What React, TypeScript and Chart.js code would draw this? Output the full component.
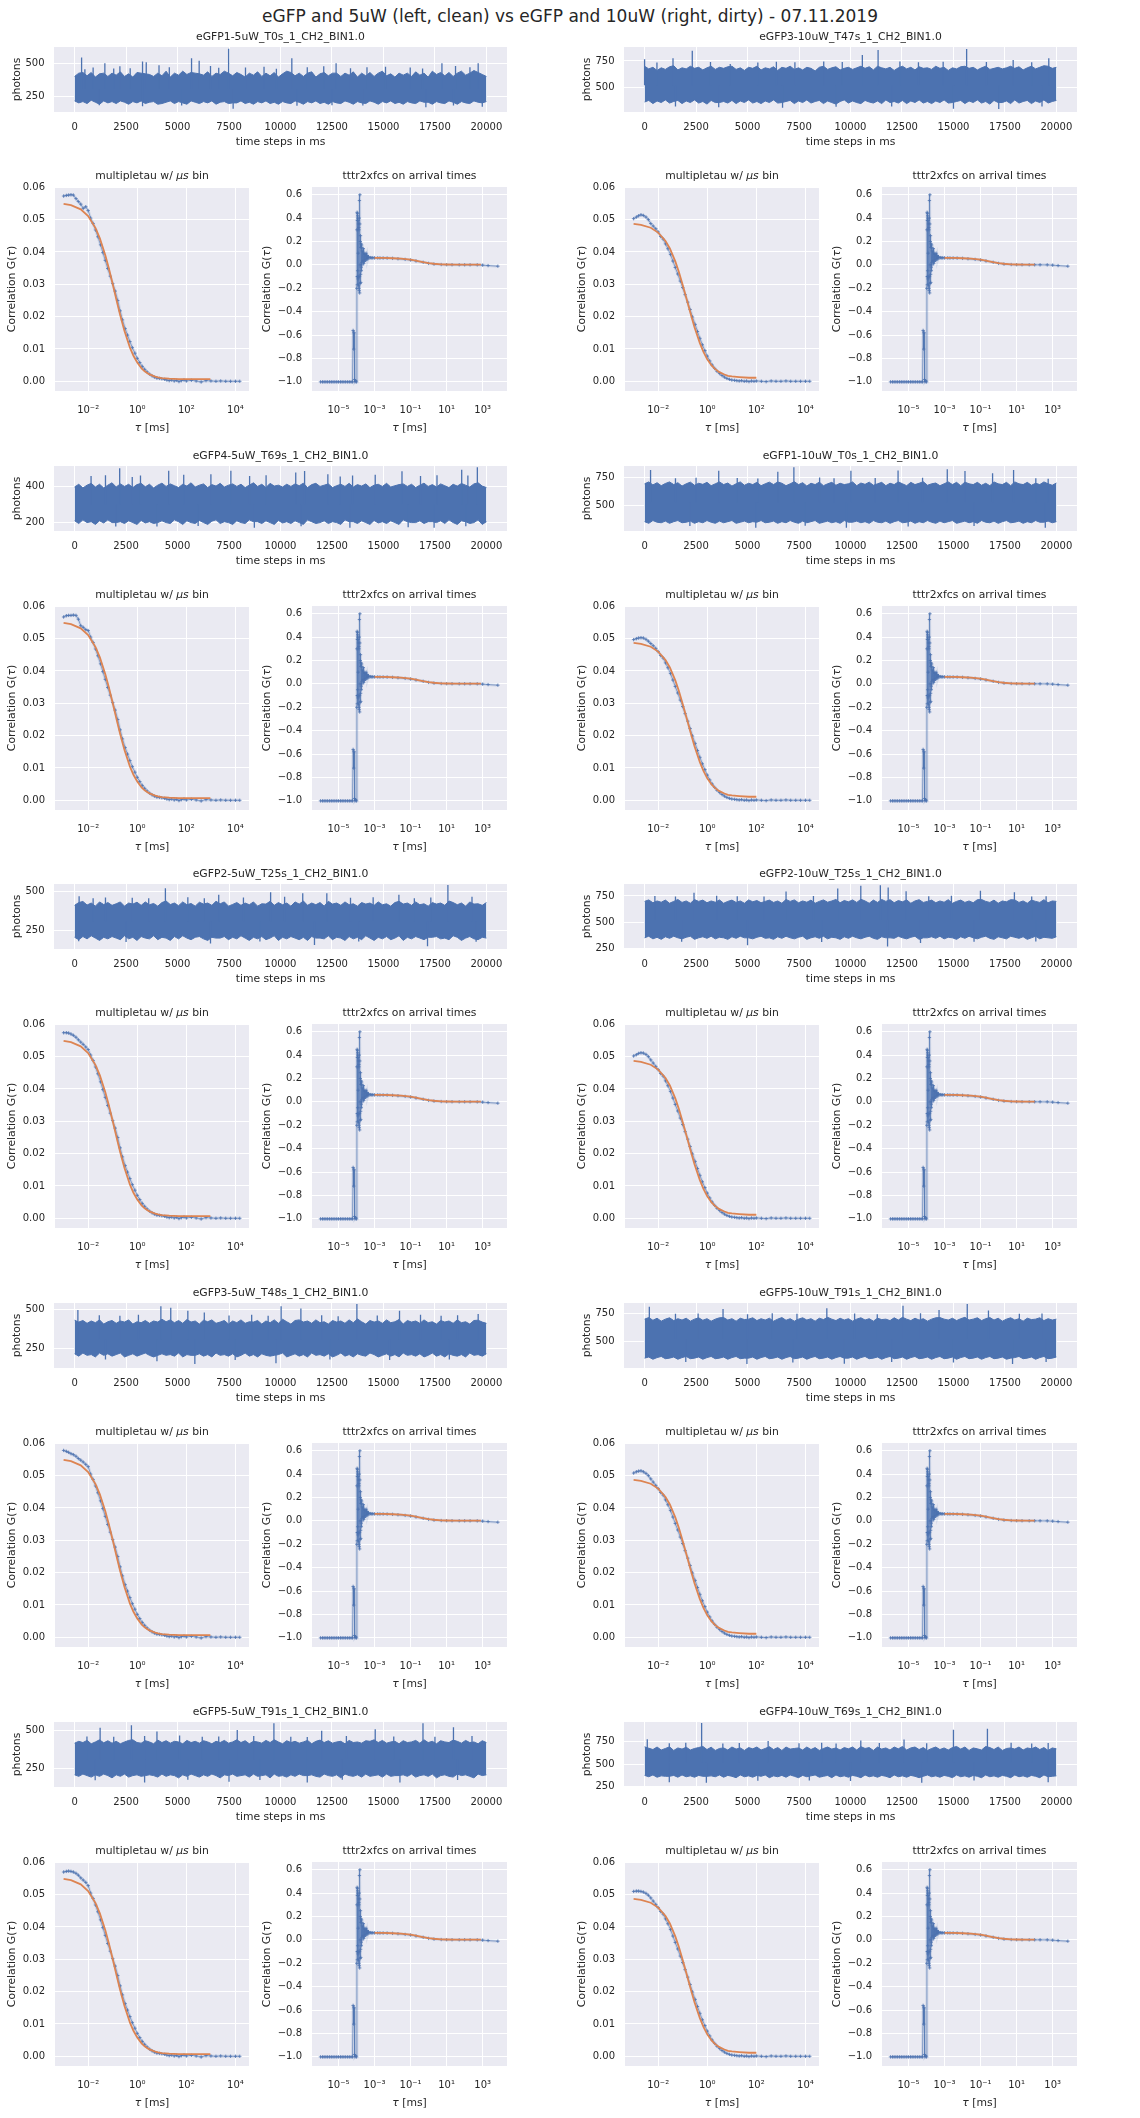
import React, { useEffect, useRef } from 'react';
import { Chart, registerables } from 'chart.js';

Chart.register(...registerables);

// ---------------- text & styling ----------------
const FAMILY = '"DejaVu Sans", "Liberation Sans", sans-serif';
const TXT = '#262626';
const BLUE = '#4c72b0';
const BLUE_LINE = 'rgba(76,114,176,0.75)';
const BLUE_BAND = 'rgba(76,114,176,0.15)';
const ORANGE = '#dd8452';
const PANEL_BG = '#eaeaf2';
const TICK_SIZE = 10;
const LABEL_SIZE = 10.8;

const MAIN_TITLE = 'eGFP and 5uW (left, clean) vs eGFP and 10uW (right, dirty) - 07.11.2019';

const TRACE_TITLES_L = ['eGFP1-5uW_T0s_1_CH2_BIN1.0', 'eGFP4-5uW_T69s_1_CH2_BIN1.0', 'eGFP2-5uW_T25s_1_CH2_BIN1.0', 'eGFP3-5uW_T48s_1_CH2_BIN1.0', 'eGFP5-5uW_T91s_1_CH2_BIN1.0'];
const TRACE_TITLES_R = ['eGFP3-10uW_T47s_1_CH2_BIN1.0', 'eGFP1-10uW_T0s_1_CH2_BIN1.0', 'eGFP2-10uW_T25s_1_CH2_BIN1.0', 'eGFP5-10uW_T91s_1_CH2_BIN1.0', 'eGFP4-10uW_T69s_1_CH2_BIN1.0'];

// ---------------- trace axes ----------------
const TRACE_XTICKS = [0, 2500, 5000, 7500, 10000, 12500, 15000, 17500, 20000];
const TRACE_XLABELS = ['0', '2500', '5000', '7500', '10000', '12500', '15000', '17500', '20000'];
const TRACE_YMIN_L = [131, 154, 130, 124, 130];
const TRACE_YMAX_L = [623, 510, 547, 540, 557];
const TRACE_YTICKS_L = [[250, 500], [200, 400], [250, 500], [250, 500], [250, 500]];
const TRACE_YMIN_R = [265, 271, 243, 262, 247];
const TRACE_YMAX_R = [883, 855, 864, 842, 964];
const TRACE_YTICKS_R = [[500, 750], [500, 750], [250, 500, 750], [500, 750], [250, 500, 750]];

// ---------------- trace envelopes (photons, 100 samples over 20000 ms) ----------------
const TRACE_HI_L = [
  [400,425,430,405,430,395,420,425,400,425,410,435,400,420,395,430,425,420,415,400,425,405,440,395,425,410,440,415,430,425,420,410,435,400,425,415,440,425,405,430,415,395,425,410,435,400,425,405,430,395,420,440,430,405,425,400,425,435,395,420,430,405,425,425,400,425,410,435,395,425,405,430,400,425,440,405,420,395,425,410,425,400,435,410,425,395,440,415,430,405,430,400,425,440,410,425,445,430,415,400],
  [395,410,390,405,415,395,410,390,405,418,395,412,398,410,392,408,415,396,410,390,405,416,398,412,402,392,410,400,418,395,405,412,392,408,400,415,395,405,412,398,410,392,405,418,398,410,392,415,400,405,395,410,398,412,402,416,392,408,415,398,405,412,392,402,410,398,415,395,408,400,412,392,405,410,398,415,395,402,408,412,398,410,392,405,416,398,408,395,412,402,392,410,400,414,405,395,412,418,400,392],
  [410,428,435,412,425,405,432,415,428,410,420,432,405,425,418,430,410,432,414,422,405,428,438,415,425,408,432,414,422,405,430,418,425,410,436,420,432,405,416,428,410,425,414,432,405,420,418,436,410,428,414,425,405,432,418,438,410,425,414,428,405,436,418,425,410,432,414,420,405,428,418,425,410,432,414,420,405,428,436,418,425,410,432,414,420,405,428,418,425,410,438,428,414,425,405,432,418,420,410,428],
  [430,418,428,410,425,414,432,405,420,428,410,425,418,432,405,420,414,428,410,425,418,436,420,432,414,428,410,434,418,425,405,430,420,432,410,418,428,405,425,414,432,410,420,418,428,405,425,414,432,410,436,420,405,428,432,418,425,410,432,414,420,405,428,418,425,410,432,414,438,420,405,428,418,425,410,432,414,420,434,405,428,418,425,410,432,414,420,405,428,418,425,410,432,414,420,405,428,430,418,410],
  [418,430,422,436,414,426,440,420,434,418,430,414,426,436,440,422,418,434,426,414,438,422,434,418,430,426,414,436,422,430,418,434,426,414,430,422,436,418,426,440,422,434,414,430,426,418,436,422,440,426,414,434,422,430,418,426,436,414,430,438,422,434,418,426,430,414,436,422,426,418,434,430,440,422,436,418,426,430,414,434,422,426,436,418,440,422,430,414,434,426,422,438,430,418,436,422,426,414,434,422],
];
const TRACE_LO_L = [
  [215,200,210,195,220,205,190,215,200,210,195,215,205,190,210,200,215,195,205,210,190,195,205,215,195,210,200,190,215,205,195,210,200,215,190,205,210,195,200,200,215,195,205,190,210,200,215,195,205,190,210,200,195,215,205,190,210,200,215,195,205,190,210,200,195,215,205,190,210,200,195,215,205,190,210,200,215,195,205,190,210,200,195,215,205,205,190,210,200,195,215,205,190,210,200,195,215,205,200,210],
  [210,195,215,200,205,190,210,198,215,200,200,205,195,210,200,190,212,198,205,195,200,210,200,195,215,205,190,210,200,195,212,200,190,208,215,195,205,200,190,210,200,195,215,205,205,195,210,200,190,212,198,205,195,210,200,190,215,205,195,200,210,195,205,200,190,215,205,205,195,210,200,190,212,198,205,195,210,200,190,215,205,200,200,210,195,205,205,200,210,195,215,200,190,210,205,195,200,215,190,205],
  [205,190,210,195,215,200,185,205,195,210,200,190,215,195,205,185,210,200,195,215,190,205,200,185,210,195,215,200,190,205,210,195,185,205,200,200,210,190,205,195,215,200,185,205,195,210,190,200,215,185,205,195,210,200,190,205,185,210,200,200,195,215,190,205,200,185,210,195,205,190,215,200,185,205,195,210,190,200,215,185,205,195,210,200,190,205,205,210,195,200,190,215,205,185,200,210,195,190,205,200],
  [215,200,220,205,210,195,220,205,215,200,210,220,195,205,215,200,210,220,205,195,205,215,205,210,200,220,195,210,205,205,215,200,210,195,220,205,210,200,215,195,205,220,200,210,195,215,205,200,205,210,220,195,205,215,200,210,195,220,205,210,200,215,195,205,220,200,210,195,215,205,200,220,210,195,205,215,200,210,195,220,205,210,200,215,195,205,220,200,210,195,215,205,200,210,195,220,205,210,200,215],
  [210,200,215,205,195,210,200,215,205,190,210,200,215,195,205,210,200,205,210,205,195,215,200,210,205,190,210,200,215,205,195,210,200,215,205,190,210,205,215,200,205,210,195,215,200,205,210,190,215,200,205,195,210,200,215,205,205,210,200,195,215,205,200,210,190,215,205,200,210,195,215,200,205,210,195,215,200,205,205,210,200,215,195,205,210,200,215,190,205,210,200,195,215,205,210,200,190,215,205,210],
];
const TRACE_HI_R = [
  [700,675,690,660,685,670,695,705,665,685,675,700,680,690,665,685,700,670,690,680,695,700,670,685,660,690,680,700,665,685,675,695,660,690,680,700,670,685,665,690,680,655,690,700,670,685,695,665,680,690,670,685,700,680,695,665,700,685,675,690,660,685,700,675,690,665,695,680,685,670,700,680,690,660,685,675,695,700,680,690,665,685,700,670,680,690,675,685,700,680,695,665,685,700,675,690,705,700,680,690],
  [695,712,685,705,678,698,712,688,705,675,695,710,682,700,690,708,678,695,712,688,702,675,695,712,682,700,688,708,678,695,710,688,712,700,678,695,714,688,705,675,700,688,710,678,695,708,682,700,688,695,712,678,702,690,710,682,695,708,678,700,688,712,695,678,708,688,700,714,682,695,702,678,695,712,688,708,678,710,695,688,708,682,700,678,712,695,688,708,678,712,695,688,708,682,700,688,712,695,682,702],
  [698,712,685,702,690,710,680,698,716,688,702,680,715,698,710,685,702,690,712,680,698,710,688,702,680,712,694,706,685,698,710,688,702,680,716,698,712,685,702,690,710,680,698,712,690,702,716,685,706,694,712,688,718,702,680,710,688,716,698,714,685,706,694,712,680,702,714,688,698,710,685,702,690,714,680,698,710,688,702,685,714,716,698,688,710,680,702,694,714,712,688,702,680,710,698,688,714,685,702,698],
  [698,712,688,706,680,698,710,685,702,690,706,680,698,710,688,702,680,698,710,712,690,702,680,706,694,698,710,685,702,690,706,680,698,712,688,702,680,698,710,690,702,680,706,694,714,698,685,706,690,702,680,698,710,690,702,680,706,694,698,685,710,690,714,698,685,706,690,702,680,698,710,712,698,690,706,685,702,714,690,698,710,685,702,712,690,706,680,698,710,690,702,680,706,694,698,710,685,702,690,698],
  [690,675,660,688,655,672,690,650,678,665,686,655,672,682,695,660,686,650,672,678,655,688,665,678,650,682,668,688,655,672,692,660,682,650,688,665,672,678,655,688,660,682,650,672,688,665,678,655,682,668,688,655,692,672,682,650,688,665,678,655,688,668,694,655,678,688,660,682,650,672,688,660,678,655,682,694,665,688,650,678,668,655,694,682,660,688,650,672,678,665,688,655,678,668,688,660,682,650,678,668],
];
const TRACE_LO_R = [
  [360,375,345,370,355,380,350,365,375,345,370,355,380,350,365,340,375,355,355,365,350,375,345,370,355,380,350,365,345,370,355,380,350,355,365,375,345,370,355,380,350,365,375,345,370,355,340,365,380,350,370,355,345,375,360,350,370,345,380,355,365,350,375,345,370,355,380,350,365,345,370,355,380,350,355,365,375,345,370,355,380,350,365,340,375,355,355,370,345,380,350,365,375,345,370,355,380,350,365,375],
  [355,340,365,350,345,360,340,355,365,345,350,360,340,355,345,365,350,340,360,345,355,365,340,350,360,345,355,350,365,345,350,360,340,355,345,365,350,340,360,345,355,365,340,350,360,345,355,340,365,350,350,360,345,355,340,365,350,345,360,340,355,365,345,350,360,340,355,345,365,350,340,360,345,355,365,340,350,360,345,355,340,365,350,345,360,340,355,365,345,350,360,340,355,345,365,350,350,360,345,355],
  [350,365,340,355,335,360,345,365,350,340,355,365,335,350,360,345,365,340,355,350,335,360,345,365,350,350,340,355,365,345,350,335,360,345,365,350,340,355,365,335,350,360,345,365,340,355,350,335,360,345,365,350,340,355,365,345,335,360,350,350,345,365,350,340,355,365,335,350,350,360,345,365,340,355,350,335,360,345,365,350,340,355,365,345,335,360,350,340,365,355,345,360,335,350,365,340,355,350,345,360],
  [350,360,340,355,365,345,350,360,340,355,365,345,350,360,340,355,365,345,350,360,340,355,365,345,350,350,360,340,355,365,345,350,360,340,355,365,345,350,360,340,355,365,345,350,360,340,355,365,350,350,360,340,355,365,345,350,360,340,355,365,345,350,360,340,355,365,345,350,360,340,355,365,345,350,360,340,355,365,345,350,360,340,355,365,345,350,360,340,350,355,365,345,350,360,340,355,365,345,350,360],
  [375,360,380,355,370,365,365,375,355,380,360,370,355,375,365,365,370,360,380,355,375,365,350,380,360,370,355,375,365,380,350,370,360,375,355,380,365,350,375,360,370,380,355,365,375,350,380,360,370,355,375,365,350,380,360,370,355,375,365,350,380,360,370,355,375,365,350,365,380,360,370,355,375,365,350,380,360,370,355,375,365,350,380,360,370,355,375,365,350,380,360,370,355,375,365,350,380,360,365,370],
];
// single-sample spikes [time ms, photons] and dips
const TRACE_SPIKES_L = [
  [[340,543],[1470,500],[3300,513],[3480,508],[5680,538],[6050,518],[7480,609],[10550,538],[12700,500],[17840,500],[19600,500],[900,468],[2200,478],[2700,462],[4100,485],[4600,470],[6600,480],[8300,468],[9200,474],[11300,470],[12100,478],[13400,462],[14200,470],[15100,474],[16300,468],[18500,480],[19200,470],[500,455],[1900,460],[7000,465],[9800,458],[16900,460]],
  [[2190,497],[4570,484],[7590,484],[11170,483],[15900,481],[18800,490],[19560,503],[10740,475],[6620,465],[800,455],[1500,460],[3200,458],[5300,462],[8500,455],[9300,460],[12300,465],[13500,458],[14600,462],[16800,455],[17600,460],[19100,458],[2800,450],[12900,452]],
  [[4410,519],[18130,541],[9520,494],[11080,488],[12250,488],[15750,478],[220,468],[7000,478],[1500,460],[2800,458],[3600,455],[5500,462],[6300,455],[8200,460],[10200,465],[13400,458],[14500,462],[16500,455],[17300,460],[19300,465],[900,455]],
  [[160,496],[4190,519],[4670,510],[10030,519],[10990,505],[13710,534],[15780,490],[5500,490],[6300,480],[19600,470],[1200,462],[2200,458],[3100,465],[7500,460],[8600,465],[9400,458],[12000,462],[12800,455],[14700,460],[16800,465],[17800,458],[18600,462]],
  [[1240,520],[2760,535],[9680,548],[16920,548],[14600,509],[18400,522],[12000,500],[7900,505],[4000,495],[600,462],[1900,460],[3400,465],[5100,468],[6200,460],[7000,462],[8700,465],[10500,460],[11300,458],[13200,465],[15500,462],[17500,460],[19300,465]],
];
const TRACE_DIPS_L = [
  [[7700,155],[17060,167],[19800,170],[3300,175],[10800,178],[14000,180],[1200,182],[5200,180],[12500,182],[18400,180]],
  [[8730,172],[13370,172],[17460,172],[16200,175],[2000,178],[4000,178],[11000,180],[19000,180],[6000,182]],
  [[11650,156],[17140,147],[6600,165],[200,180],[2500,175],[9000,178],[13800,178],[19500,176]],
  [[5840,150],[9780,155],[4000,168],[1500,178],[7800,176],[12400,178],[15300,175],[18200,178]],
  [[3400,160],[7500,165],[11300,160],[15800,160],[1000,175],[5500,178],[9000,176],[13000,178],[18600,176]],
];
const TRACE_SPIKES_R = [
  [[0,766],[1380,775],[2316,848],[4160,721],[10575,807],[11340,854],[15640,864],[17900,760],[19630,775],[8700,745],[3200,740],[5500,735],[6400,742],[7300,738],[9600,740],[12400,745],[13300,738],[14500,742],[16600,740],[18800,738],[600,735]],
  [[290,819],[3600,813],[6470,804],[7250,843],[10020,812],[12310,815],[14700,825],[15560,810],[17920,819],[16900,790],[1500,745],[2500,750],[4500,748],[5500,742],[8500,752],[9200,745],[11200,748],[13500,750],[19000,745],[19600,740]],
  [[6870,793],[9380,822],[10500,847],[11450,853],[11830,831],[12700,795],[16310,799],[17960,785],[2400,780],[500,750],[1500,745],[3500,752],[4500,748],[5800,745],[8200,750],[13800,748],[14900,752],[18800,745],[19500,748]],
  [[230,809],[3810,789],[8850,795],[12550,818],[15670,833],[14300,780],[16700,775],[1500,745],[2600,748],[5000,742],[6200,750],[7400,745],[10200,748],[11300,742],[13400,750],[18200,745],[19300,748]],
  [[130,775],[2770,952],[15000,879],[16650,890],[12600,770],[10500,760],[6000,755],[1200,730],[2000,735],[3800,728],[4600,732],[7500,730],[8600,735],[9300,728],[11400,732],[13700,730],[17800,735],[18800,728],[19600,732]],
];
const TRACE_DIPS_R = [
  [[3600,310],[15000,297],[17200,294],[6700,305],[1500,318],[9300,315],[12000,318],[19300,318]],
  [[5400,301],[9800,301],[19460,301],[2200,315],[7800,318],[12800,312],[16000,315]],
  [[5000,280],[11800,268],[13400,300],[1800,312],[8600,310],[16000,312],[19000,315]],
  [[4970,298],[9700,300],[17870,298],[2000,315],[7200,312],[12000,315],[15000,312],[19500,315]],
  [[1200,300],[3000,293],[13460,293],[19600,300],[5500,315],[8000,318],[10000,312],[16000,318]],
];
const TRACE_MID_L = [305, 300, 305, 305, 310];
const TRACE_MID_R = [520, 525, 520, 520, 515];
const TRACE_T = TRACE_HI_L[0].map((_, i) => (i * 20000) / (TRACE_HI_L[0].length - 1));

// ---------------- multipletau correlation ----------------
const MT_XMIN = 4.47e-4;
const MT_XMAX = 3.55e4;
const MT_XTICKS = [1e-2, 1, 1e2, 1e4];
const MT_XLABELS = ['10⁻²', '10⁰', '10²', '10⁴'];
const MT_YTICKS = [0, 0.01, 0.02, 0.03, 0.04, 0.05, 0.06];
const MT_YLABELS = ['0.00', '0.01', '0.02', '0.03', '0.04', '0.05', '0.06'];

const MT_TAU = [0.001, 0.0013, 0.0016, 0.002, 0.0025, 0.0032, 0.004, 0.005, 0.0063, 0.008, 0.01,
  0.0126, 0.016, 0.02, 0.025, 0.032, 0.04, 0.05, 0.063, 0.08, 0.1,
  0.126, 0.16, 0.2, 0.25, 0.32, 0.4, 0.5, 0.63, 0.8, 1,
  1.26, 1.6, 2, 2.5, 3.2, 4, 5, 6.3, 8, 10,
  13, 16, 20, 25, 32, 40, 50, 63, 80, 100,
  160, 250, 400, 630, 1000, 1600, 2500, 4000, 6300, 10000, 15000];

const MT_HEAD_L = [
  [0.0573, 0.0575, 0.0576, 0.0577, 0.0576, 0.0565, 0.0556, 0.0548, 0.0535, 0.0540, 0.0528],
  [0.0567, 0.0571, 0.0572, 0.0572, 0.0573, 0.0572, 0.0560, 0.0540, 0.0535, 0.0528, 0.0525],
  [0.0574, 0.0574, 0.0573, 0.0570, 0.0566, 0.0560, 0.0552, 0.0545, 0.0538, 0.0530, 0.0522],
  [0.0578, 0.0575, 0.0572, 0.0568, 0.0565, 0.0560, 0.0553, 0.0548, 0.0542, 0.0535, 0.0528],
  [0.0570, 0.0572, 0.0573, 0.0572, 0.0570, 0.0566, 0.0560, 0.0552, 0.0545, 0.0538, 0.0528],
];
const MT_TAIL_L = [0.0505, 0.0488, 0.0468, 0.0447, 0.0422, 0.0398, 0.0374, 0.0349, 0.0325, 0.0302,
  0.0279, 0.0250, 0.0218, 0.0190, 0.0163, 0.0143, 0.0123, 0.0104, 0.0087, 0.0071,
  0.0058, 0.0046, 0.0037, 0.0029, 0.0022, 0.0017, 0.0013, 0.0010, 0.0009, 0.0008,
  0.0006, 0.0004, 0.0002, 0.0004, 0.0001, 0.0003, -0.0001, 0.0002, 0.0004, 0.0001,
  0.0003, 0.0001, -0.0002, 0.0002, 0.0001, 0.0, 0.0001, 0.0, 0.0, 0.0, 0.0];
const MT_HEAD_R = [
  [0.0503, 0.0508, 0.0512, 0.0515, 0.0513, 0.0508, 0.0500, 0.0488, 0.0480, 0.0472, 0.0462],
  [0.0497, 0.0500, 0.0502, 0.0503, 0.0502, 0.0498, 0.0492, 0.0485, 0.0478, 0.0470, 0.0460],
  [0.0502, 0.0506, 0.0510, 0.0512, 0.0511, 0.0507, 0.0500, 0.0490, 0.0480, 0.0470, 0.0460],
  [0.0508, 0.0512, 0.0514, 0.0515, 0.0512, 0.0507, 0.0500, 0.0490, 0.0480, 0.0470, 0.0460],
  [0.0510, 0.0511, 0.0511, 0.0510, 0.0508, 0.0504, 0.0498, 0.0490, 0.0480, 0.0470, 0.0460],
];
const MT_TAIL_R = [0.0448, 0.0440, 0.0425, 0.0410, 0.0392, 0.0372, 0.0352, 0.0332, 0.0310, 0.0290,
  0.0268, 0.0245, 0.0222, 0.0199, 0.0176, 0.0154, 0.0133, 0.0113, 0.0095, 0.0078,
  0.0063, 0.0050, 0.0040, 0.0031, 0.0024, 0.0018, 0.0013, 0.0009, 0.0006, 0.0004,
  0.0003, 0.0002, 0.0001, 0.0002, 0.0, 0.0001, -0.0001, 0.0001, 0.0, 0.0001,
  0.0, -0.0001, 0.0001, 0.0, 0.0, 0.0001, 0.0, 0.0, 0.0, 0.0, 0.0];

const MT_FIT_TAU_L = [0.001, 0.002, 0.005, 0.01, 0.02, 0.03, 0.05, 0.07, 0.1, 0.15, 0.2, 0.3, 0.5, 0.7, 1, 1.5, 2, 3, 5, 7, 10, 20, 50, 100, 300, 950];
const MT_FIT_L = [0.0549, 0.0545, 0.0532, 0.0511, 0.0474, 0.0442, 0.0390, 0.0349, 0.0301, 0.0244, 0.0206, 0.0156, 0.0105, 0.0079, 0.0058, 0.0040, 0.0031, 0.0022, 0.0015, 0.0012, 0.0010, 0.0008, 0.0007, 0.0007, 0.0007, 0.0007];
const MT_FIT_TAU_R = [0.001, 0.002, 0.005, 0.01, 0.02, 0.03, 0.05, 0.07, 0.1, 0.15, 0.2, 0.3, 0.5, 0.7, 1, 1.5, 2, 3, 5, 7, 10, 20, 50, 100];
const MT_FIT_R = [0.0487, 0.0484, 0.0475, 0.0460, 0.0434, 0.0411, 0.0371, 0.0338, 0.0298, 0.0250, 0.0215, 0.0168, 0.0118, 0.0091, 0.0068, 0.0049, 0.0039, 0.0029, 0.0021, 0.0017, 0.0015, 0.0013, 0.0011, 0.0011];

// ---------------- tttr2xfcs correlation ----------------
const TT_XMIN = 3.39e-7;
const TT_XMAX = 2.24e4;
const TT_XTICKS = [1e-5, 1e-3, 1e-1, 1e1, 1e3];
const TT_XLABELS = ['10⁻⁵', '10⁻³', '10⁻¹', '10¹', '10³'];
const TT_YTICKS = [-1.0, -0.8, -0.6, -0.4, -0.2, 0.0, 0.2, 0.4, 0.6];
const TT_YLABELS = ['−1.0', '−0.8', '−0.6', '−0.4', '−0.2', '0.0', '0.2', '0.4', '0.6'];

const TT_TAU = [1e-6, 1.3e-6, 1.6e-6, 2e-6, 2.5e-6, 3.2e-6, 4e-6, 5e-6, 6.3e-6, 8e-6, 1e-5, 1.3e-5, 1.6e-5, 2e-5, 2.5e-5, 3.2e-5, 4e-5, 5e-5, 6e-5,
  6.5e-5, 7e-5, 7.3e-5, 7.7e-5, 8.2e-5, 9e-5, 1e-4,
  1.04e-4, 1.06e-4, 1.08e-4, 1.095e-4, 1.11e-4, 1.125e-4, 1.14e-4, 1.155e-4, 1.17e-4, 1.185e-4,
  1.2e-4, 1.22e-4, 1.24e-4, 1.26e-4, 1.28e-4, 1.3e-4, 1.32e-4, 1.34e-4, 1.36e-4, 1.38e-4,
  1.4e-4, 1.425e-4, 1.45e-4, 1.475e-4, 1.5e-4, 1.525e-4, 1.55e-4, 1.575e-4, 1.6e-4, 1.63e-4,
  1.66e-4, 1.69e-4, 1.72e-4, 1.75e-4, 1.78e-4, 1.82e-4, 1.85e-4, 1.88e-4, 1.92e-4, 1.96e-4,
  2e-4, 2.1e-4, 2.2e-4, 2.35e-4, 2.5e-4, 2.65e-4, 2.8e-4, 3e-4, 3.2e-4, 3.4e-4, 3.6e-4, 3.9e-4, 4.2e-4, 4.6e-4, 5e-4, 6e-4, 7e-4, 8e-4,
  1e-3, 1.5e-3, 2e-3, 3e-3, 5e-3, 1e-2, 2e-2, 5e-2, 0.1, 0.2, 0.5, 1, 2, 5, 10, 20, 50, 100, 200, 500, 1000, 2000, 7000];
const TT_G = [-1, -1, -1, -1, -1, -1, -1, -1, -1, -1, -1, -1, -1, -1, -1, -1, -1, -1, -1,
  -0.56, -0.72, -0.58, -0.98, -1.0, -0.99, -1.0,
  -0.2, 0.3, 0.45, -0.1, -0.17, 0.38, 0.44, -0.05, -0.1, 0.42,
  0.4, -0.12, 0.1, 0.38, 0.35, -0.1, -0.18, 0.32, 0.3, -0.2,
  -0.22, 0.4, 0.55, -0.1, -0.24, 0.35, 0.6, 0.0, -0.16, 0.2,
  0.25, -0.08, -0.15, 0.15, 0.18, -0.02, -0.05, 0.15, 0.17, 0.0,
  0.02, 0.12, 0.03, 0.14, 0.01, 0.1, 0.03, 0.09, 0.04, 0.1, 0.05, 0.08, 0.05, 0.07, 0.06, 0.062, 0.06, 0.061,
  0.06, 0.06, 0.059, 0.059, 0.058, 0.056, 0.053, 0.047, 0.042, 0.034, 0.022, 0.013, 0.007, 0.003, 0.002, 0.0015, 0.001, 0.001, 0.0008, 0.0005, -0.002, -0.006, -0.011];
const TT_FIT_TAU_L = [1e-3, 3e-3, 1e-2, 3e-2, 0.1, 0.2, 0.3, 0.5, 1, 2, 5, 10, 30, 100, 300, 800];
const TT_FIT_L = [0.060, 0.0595, 0.057, 0.053, 0.045, 0.037, 0.031, 0.024, 0.016, 0.010, 0.005, 0.0035, 0.0025, 0.0022, 0.002, 0.002];
const TT_FIT_TAU_R = [1e-3, 3e-3, 1e-2, 3e-2, 0.1, 0.2, 0.3, 0.5, 1, 2, 5, 10, 30, 100];
const TT_FIT_R = [0.060, 0.0595, 0.057, 0.053, 0.045, 0.037, 0.031, 0.024, 0.016, 0.010, 0.005, 0.0035, 0.0025, 0.0022];

// ---------------- layout (page pixels) ----------------
const ML = 60, MR = 14, MT = 24, MB = 46;
const GROUP_STEP = 418.7;
const TRACE_TOP = 47, TRACE_H = 65, CORR_TOP = 187, CORR_H = 204;

type Seg = { t: string; it?: boolean };
interface AxisSpec { type: 'linear' | 'logarithmic'; min: number; max: number; ticks: number[]; labels: string[]; padding: number; }
interface PanelSpec {
  key: string; px: number; py: number; pw: number; ph: number;
  title: Seg[]; xTitle: Seg[]; yTitle: Seg[];
  titleOff: number; xOff: number; yOff: number;
  x: AxisSpec; y: AxisSpec; datasets: any[];
}

function drawSegs(ctx: CanvasRenderingContext2D, segs: Seg[], cx: number, cy: number, rotate: boolean) {
  ctx.save();
  ctx.translate(cx, cy);
  if (rotate) ctx.rotate(-Math.PI / 2);
  ctx.fillStyle = TXT;
  ctx.textBaseline = 'middle';
  ctx.textAlign = 'left';
  const fonts = segs.map((s) => `${s.it ? 'italic ' : ''}${LABEL_SIZE}px ${FAMILY}`);
  let total = 0;
  const widths = segs.map((s, i) => {
    ctx.font = fonts[i];
    const w = ctx.measureText(s.t).width;
    total += w;
    return w;
  });
  let x = -total / 2;
  segs.forEach((s, i) => {
    ctx.font = fonts[i];
    ctx.fillText(s.t, x, 0);
    x += widths[i];
  });
  ctx.restore();
}

function makeLabelPlugin(s: PanelSpec) {
  return {
    id: 'mplLabels',
    beforeDraw(chart: any) {
      const a = chart.chartArea;
      const ctx = chart.ctx;
      ctx.save();
      ctx.fillStyle = PANEL_BG;
      ctx.fillRect(a.left, a.top, a.right - a.left, a.bottom - a.top);
      ctx.restore();
    },
    afterDraw(chart: any) {
      const a = chart.chartArea;
      const ctx = chart.ctx;
      const cx = (a.left + a.right) / 2;
      const cy = (a.top + a.bottom) / 2;
      drawSegs(ctx, s.title, cx, a.top - s.titleOff, false);
      drawSegs(ctx, s.xTitle, cx, a.bottom + s.xOff, false);
      drawSegs(ctx, s.yTitle, a.left - s.yOff, cy, true);
    },
  };
}

function makeConfig(s: PanelSpec): any {
  const axis = (a: AxisSpec, isX: boolean) => ({
    type: a.type,
    min: a.min,
    max: a.max,
    afterBuildTicks: (ax: any) => { ax.ticks = a.ticks.map((v) => ({ value: v })); },
    afterFit: (ax: any) => { if (isX) ax.height = MB; else ax.width = ML; },
    ticks: {
      callback: (_v: any, i: number) => a.labels[i],
      font: { family: FAMILY, size: TICK_SIZE },
      color: TXT,
      padding: a.padding,
      autoSkip: false,
      maxRotation: 0,
      minRotation: 0,
    },
    grid: { color: '#ffffff', lineWidth: 1, drawTicks: false },
    border: { display: false },
  });
  return {
    type: 'line',
    data: { datasets: s.datasets },
    options: {
      animation: false,
      responsive: false,
      maintainAspectRatio: false,
      devicePixelRatio: 1,
      events: [],
      layout: { padding: { left: 0, right: MR, top: MT, bottom: 0 } },
      plugins: { legend: { display: false }, tooltip: { enabled: false } },
      scales: { x: axis(s.x, true), y: axis(s.y, false) },
    },
    plugins: [makeLabelPlugin(s)],
  };
}

function Panel({ spec }: { spec: PanelSpec }) {
  const ref = useRef<HTMLCanvasElement>(null);
  useEffect(() => {
    const chart = new Chart(ref.current as HTMLCanvasElement, makeConfig(spec));
    return () => chart.destroy();
  }, []);
  const w = spec.pw + ML + MR;
  const h = spec.ph + MT + MB;
  return (
    <canvas
      ref={ref}
      width={w}
      height={h}
      style={{ position: 'absolute', left: spec.px - ML, top: spec.py - MT, width: w, height: h }}
    />
  );
}

const pts = (xs: number[], ys: number[]) => xs.map((x, i) => ({ x, y: ys[i] }));

// vertical single-sample excursions from the trace mean to the read peak / dip value
function strokes(list: number[][], mid: number) {
  const sorted = [...list].sort((a, b) => a[0] - b[0]);
  const out: { x: number; y: number | null }[] = [];
  sorted.forEach(([t, v]) => {
    out.push({ x: t, y: mid }, { x: t, y: v }, { x: t, y: null });
  });
  return out;
}

function traceSets(hi: number[], lo: number[], spikes: number[][], dips: number[][], mid: number) {
  return [
    { data: strokes(spikes, mid), borderColor: BLUE, borderWidth: 1.3, pointRadius: 0, fill: false, spanGaps: false, tension: 0 },
    { data: strokes(dips, mid), borderColor: BLUE, borderWidth: 1.3, pointRadius: 0, fill: false, spanGaps: false, tension: 0 },
    { data: pts(TRACE_T, hi), borderColor: BLUE, borderWidth: 1, backgroundColor: BLUE, fill: '+1', pointRadius: 0, tension: 0 },
    { data: pts(TRACE_T, lo), borderColor: BLUE, borderWidth: 1, backgroundColor: BLUE, fill: false, pointRadius: 0, tension: 0 },
  ];
}

function corrSets(tau: number[], g: number[], fitTau: number[], fit: number[]) {
  const data = pts(tau, g);
  return [
    { data: pts(fitTau, fit), borderColor: ORANGE, borderWidth: 1.8, pointRadius: 0, fill: false, tension: 0 },
    { data, borderColor: BLUE_LINE, borderWidth: 0.8, pointStyle: 'cross', pointRadius: 1.7, pointBorderColor: BLUE, pointBorderWidth: 0.8, fill: false, tension: 0 },
    { data, borderColor: BLUE_BAND, borderWidth: 3, pointRadius: 0, fill: false, tension: 0 },
  ];
}

const T_TRACE: Seg[] = [{ t: 'time steps in ms' }];
const Y_TRACE: Seg[] = [{ t: 'photons' }];
const T_MT: Seg[] = [{ t: 'multipletau w/ ' }, { t: 'μs', it: true }, { t: ' bin' }];
const T_TT: Seg[] = [{ t: 'tttr2xfcs on arrival times' }];
const X_CORR: Seg[] = [{ t: 'τ', it: true }, { t: ' [ms]' }];
const Y_CORR: Seg[] = [{ t: 'Correlation G(' }, { t: 'τ', it: true }, { t: ')' }];

function buildPanels(): PanelSpec[] {
  const out: PanelSpec[] = [];
  for (let g = 0; g < 5; g++) {
    const dy = Math.round(GROUP_STEP * g);
    const tTop = TRACE_TOP + dy;
    const cTop = CORR_TOP + dy;
    const traceX: AxisSpec = { type: 'linear', min: -1000, max: 21000, ticks: TRACE_XTICKS, labels: TRACE_XLABELS, padding: 9 };
    const mtX: AxisSpec = { type: 'logarithmic', min: MT_XMIN, max: MT_XMAX, ticks: MT_XTICKS, labels: MT_XLABELS, padding: 13 };
    const mtY: AxisSpec = { type: 'linear', min: -0.003, max: 0.0601, ticks: MT_YTICKS, labels: MT_YLABELS, padding: 10 };
    const ttX: AxisSpec = { type: 'logarithmic', min: TT_XMIN, max: TT_XMAX, ticks: TT_XTICKS, labels: TT_XLABELS, padding: 13 };
    const ttY: AxisSpec = { type: 'linear', min: -1.078, max: 0.666, ticks: TT_YTICKS, labels: TT_YLABELS, padding: 10 };

    for (const side of ['L', 'R'] as const) {
      const left = side === 'L';
      const yTicks = left ? TRACE_YTICKS_L[g] : TRACE_YTICKS_R[g];
      out.push({
        key: `trace${side}${g}`,
        px: left ? 54 : 624, py: tTop, pw: 453, ph: TRACE_H,
        title: [{ t: left ? TRACE_TITLES_L[g] : TRACE_TITLES_R[g] }], xTitle: T_TRACE, yTitle: Y_TRACE,
        titleOff: 10, xOff: 29.7, yOff: left ? 37 : 36.5,
        x: traceX,
        y: { type: 'linear', min: left ? TRACE_YMIN_L[g] : TRACE_YMIN_R[g], max: left ? TRACE_YMAX_L[g] : TRACE_YMAX_R[g], ticks: yTicks, labels: yTicks.map(String), padding: 9.5 },
        datasets: left
          ? traceSets(TRACE_HI_L[g], TRACE_LO_L[g], TRACE_SPIKES_L[g], TRACE_DIPS_L[g], TRACE_MID_L[g])
          : traceSets(TRACE_HI_R[g], TRACE_LO_R[g], TRACE_SPIKES_R[g], TRACE_DIPS_R[g], TRACE_MID_R[g]),
      });
      const mtG = left ? [...MT_HEAD_L[g], ...MT_TAIL_L] : [...MT_HEAD_R[g], ...MT_TAIL_R];
      out.push({
        key: `mt${side}${g}`,
        px: left ? 55 : 625, py: cTop, pw: 194, ph: CORR_H,
        title: T_MT, xTitle: X_CORR, yTitle: Y_CORR,
        titleOff: 11.3, xOff: 37.3, yOff: 42.8,
        x: mtX, y: mtY,
        datasets: corrSets(MT_TAU, mtG, left ? MT_FIT_TAU_L : MT_FIT_TAU_R, left ? MT_FIT_L : MT_FIT_R),
      });
      out.push({
        key: `tt${side}${g}`,
        px: left ? 312 : 882, py: cTop, pw: 195, ph: CORR_H,
        title: T_TT, xTitle: X_CORR, yTitle: Y_CORR,
        titleOff: 11.3, xOff: 37.3, yOff: 45.3,
        x: ttX, y: ttY,
        datasets: corrSets(TT_TAU, TT_G, left ? TT_FIT_TAU_L : TT_FIT_TAU_R, left ? TT_FIT_L : TT_FIT_R),
      });
    }
  }
  return out;
}

export default function App() {
  const panels = buildPanels();
  return (
    <div style={{ position: 'absolute', left: 0, top: 0, width: 1140, height: 2118, background: '#ffffff', overflow: 'hidden' }}>
      <div
        style={{
          position: 'absolute', left: 0, top: 6, width: 1140, height: 20, lineHeight: '20px',
          textAlign: 'center', fontFamily: FAMILY, fontSize: 17, color: TXT, whiteSpace: 'nowrap',
        }}
      >
        {MAIN_TITLE}
      </div>
      {panels.map((p) => (
        <Panel key={p.key} spec={p} />
      ))}
    </div>
  );
}
